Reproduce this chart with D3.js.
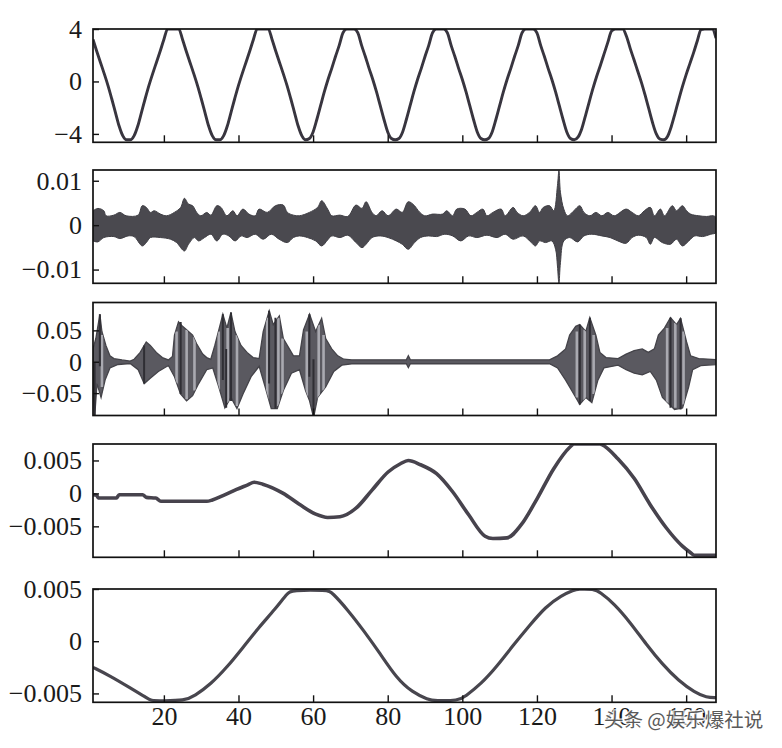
<!DOCTYPE html>
<html><head><meta charset="utf-8">
<script src="https://cdn.jsdelivr.net/npm/d3@7"></script>
<style>body{margin:0;background:#fff}</style>
</head><body><svg id="c" width="782" height="748"></svg>
<script>
// ---------- DATA ----------
const xTicks = [20,40,60,80,100,120,140,160];
const xTickLabels = ["20","40","60","80","100","120","140","160"];

// panel 1: clipped, near-triangular oscillation (one value per sample 1..168)
const p1Values = [
 3.2,2.3,1.45,0.6,-0.3,-1.3,-2.35,-3.4,-4.15,-4.45,-4.45,-4.15,-3.4,-2.35,-1.3,-0.3,0.6,1.45,2.3,3.2,4,4,4,4,
 3.2,2.3,1.45,0.6,-0.3,-1.3,-2.35,-3.4,-4.15,-4.45,-4.45,-4.15,-3.4,-2.35,-1.3,-0.3,0.6,1.45,2.3,3.2,4,4,4,4,
 3.2,2.3,1.45,0.6,-0.3,-1.3,-2.35,-3.4,-4.15,-4.45,-4.35,-3.85,-2.9,-1.85,-0.8,0.15,1.0,1.9,2.75,3.7,4,4,4,3.7,
 2.75,1.9,1.0,0.15,-0.8,-1.85,-2.9,-3.85,-4.35,-4.45,-4.35,-3.85,-2.9,-1.85,-0.8,0.15,1.0,1.9,2.75,3.7,4,4,4,3.7,
 2.75,1.9,1.0,0.15,-0.8,-1.85,-2.9,-3.85,-4.35,-4.45,-4.35,-3.85,-2.9,-1.85,-0.8,0.15,1.0,1.9,2.75,3.7,4,4,4,3.7,
 2.75,1.9,1.0,0.15,-0.8,-1.85,-2.9,-3.85,-4.35,-4.45,-4.25,-3.62,-2.62,-1.57,-0.55,0.38,1.22,2.1,2.98,3.85,4,4,4,3.45,
 2.52,1.67,0.8,-0.07,-1.05,-2.1,-3.15,-4.0,-4.4,-4.45,-4.2,-3.45,-2.45,-1.4,-0.4,0.52,1.36,2.2,3.1,3.95,4,4,4,3.3
];
const p1YTicks = [-4,0,4];
const p1YLabels = ["\u22124","0","4"];

// panel 2: envelope of a dense noise band [x, value]
const p2Upper = [[1.0,0.00325],[2.3,0.00377],[3.9,0.00325],[4.5,0.00211],[6.6,0.00226],[8.2,0.00287],[9.9,0.00211],[13.1,0.00226],[14.2,0.00438],[15.3,0.004],[16.4,0.00287],[17.4,0.00325],[19.1,0.00249],[20.7,0.00211],[22.8,0.00287],[24.5,0.004],[25.5,0.00604],[26.6,0.00475],[27.7,0.00438],[28.8,0.00287],[29.9,0.00211],[31.5,0.00287],[32.6,0.00226],[34.2,0.00438],[35.3,0.004],[36.9,0.00211],[38.5,0.00325],[39.6,0.00211],[41.2,0.00362],[42.8,0.00249],[44.5,0.00211],[45.5,0.00362],[47.7,0.00287],[49.9,0.00438],[52.0,0.00453],[53.1,0.00287],[54.7,0.00226],[56.3,0.00211],[59.0,0.00287],[61.2,0.004],[62.3,0.00551],[63.9,0.00362],[65.0,0.00211],[67.2,0.00226],[69.3,0.00196],[71.5,0.00453],[73.1,0.00377],[74.2,0.00528],[75.8,0.00287],[76.9,0.00211],[78.5,0.00325],[80.1,0.00211],[82.3,0.00362],[83.9,0.00287],[85.5,0.00528],[87.2,0.00438],[88.2,0.00325],[89.9,0.00211],[92.0,0.00249],[94.7,0.00249],[95.8,0.00325],[97.4,0.00211],[98.5,0.00362],[100.7,0.00362],[102.3,0.00211],[103.9,0.00287],[105.5,0.00362],[106.6,0.00211],[108.2,0.00287],[110.4,0.00362],[111.5,0.00211],[113.6,0.004],[114.7,0.00287],[116.3,0.00211],[118.0,0.00287],[119.6,0.00438],[120.7,0.00287],[121.7,0.004],[123.4,0.00438],[124.5,0.00325],[125.5,0.0089],[125.9,0.0123],[126.3,0.0074],[127.2,0.00362],[128.2,0.00211],[129.9,0.00325],[131.5,0.00438],[132.6,0.00287],[134.2,0.00211],[135.8,0.00287],[137.4,0.00211],[139.0,0.00287],[140.7,0.00211],[143.9,0.00362],[145.5,0.00287],[147.2,0.00211],[148.8,0.00325],[150.4,0.004],[151.5,0.00211],[153.1,0.00362],[154.2,0.00211],[156.3,0.00438],[157.4,0.00325],[159.0,0.00438],[160.1,0.00325],[161.2,0.00249],[163.4,0.00211],[165.5,0.00196],[167.2,0.00211],[168.0,0.00174]];
const p2Lower = [[1.0,-0.00355],[2.3,-0.00377],[3.9,-0.00279],[6.6,-0.00257],[8.2,-0.00302],[10.4,-0.00242],[12.0,-0.00257],[14.2,-0.00468],[15.3,-0.00392],[16.4,-0.00279],[19.1,-0.00279],[21.8,-0.00317],[23.4,-0.00392],[25.5,-0.00581],[26.6,-0.0043],[28.2,-0.00279],[29.3,-0.00355],[30.9,-0.00279],[32.6,-0.00204],[34.2,-0.00355],[35.8,-0.00204],[37.4,-0.00242],[39.1,-0.00355],[40.7,-0.00242],[42.3,-0.00279],[44.5,-0.00204],[46.6,-0.00317],[48.8,-0.00204],[50.9,-0.00317],[53.1,-0.00392],[54.7,-0.00279],[56.3,-0.00242],[58.5,-0.00279],[60.7,-0.00355],[62.3,-0.00468],[63.9,-0.00332],[65.0,-0.00242],[67.2,-0.00279],[69.3,-0.00226],[71.5,-0.00392],[73.1,-0.00506],[74.2,-0.0043],[75.8,-0.00279],[78.0,-0.00242],[80.1,-0.00279],[82.3,-0.00355],[83.9,-0.0043],[85.5,-0.00543],[87.2,-0.00392],[88.8,-0.00279],[90.9,-0.00242],[93.1,-0.00257],[95.3,-0.00204],[97.4,-0.00242],[99.6,-0.00355],[101.7,-0.00242],[103.9,-0.00279],[106.6,-0.00226],[109.3,-0.00279],[111.5,-0.00204],[113.6,-0.00317],[116.3,-0.00242],[118.5,-0.00392],[119.6,-0.00468],[120.7,-0.00355],[122.3,-0.00392],[124.0,-0.00355],[125.0,-0.00543],[125.5,-0.0092],[125.9,-0.0131],[126.3,-0.00845],[127.2,-0.00355],[128.8,-0.00279],[130.9,-0.00377],[132.6,-0.00242],[134.7,-0.00204],[137.4,-0.00242],[139.6,-0.00279],[141.7,-0.00355],[143.9,-0.00408],[145.5,-0.00279],[147.2,-0.00226],[149.3,-0.00279],[150.4,-0.0043],[151.5,-0.00279],[153.6,-0.00392],[155.8,-0.0043],[157.4,-0.00317],[159.0,-0.00468],[160.7,-0.00355],[162.3,-0.00242],[164.4,-0.00257],[166.6,-0.00204],[168.0,-0.00166]];
const p2YTicks = [-0.01,0,0.01];
const p2YLabels = ["\u22120.01","0","0.01"];

// panel 3: bursts — envelope [x, value] and spikes [x, top, bottom]
const p3Upper = [[1.0,0.0204],[1.76,0.037],[2.84,0.0757],[3.38,0.0481],[4.46,0.026],[5.54,0.0094],[6.62,0.005],[8.78,0.0028],[10.95,0.0011],[12.03,0.0039],[13.65,0.0149],[15.27,0.0315],[16.35,0.026],[17.97,0.0149],[19.59,0.0066],[21.21,0.0028],[22.3,0.0083],[22.84,0.0425],[23.92,0.0635],[25.0,0.0564],[26.08,0.0508],[27.7,0.0425],[28.78,0.0287],[30.4,0.0122],[31.48,0.0066],[32.57,0.0039],[33.65,0.026],[34.73,0.0508],[35.81,0.0757],[36.89,0.0536],[37.97,0.0785],[39.05,0.0481],[40.67,0.026],[42.29,0.0149],[43.92,0.0066],[45.54,0.005],[46.62,0.0481],[48.24,0.0812],[49.32,0.0591],[50.94,0.0729],[52.02,0.037],[53.64,0.0204],[54.73,0.0094],[56.35,0.0094],[57.43,0.0508],[59.05,0.0757],[60.67,0.0481],[62.29,0.0691],[63.37,0.037],[64.99,0.0204],[66.61,0.0094],[68.24,0.004],[70.4,0.003],[84.99,0.003],[85.53,0.0095],[86.07,0.003],[123.37,0.003],[125.53,0.0094],[127.69,0.0204],[128.77,0.0425],[130.4,0.0564],[131.48,0.0591],[133.1,0.0481],[134.18,0.0702],[135.8,0.0425],[136.88,0.0149],[138.5,0.0066],[141.75,0.005],[143.91,0.0122],[146.07,0.0177],[148.23,0.0204],[149.85,0.0149],[151.48,0.0204],[152.56,0.0425],[154.18,0.0536],[155.8,0.0702],[157.42,0.0591],[158.5,0.0691],[160.12,0.0315],[161.2,0.0094],[163.37,0.005],[168.0,0.0035]];
const p3Lower = [[1.0,-0.0293],[1.43,-0.089],[2.08,-0.0348],[3.16,-0.0569],[4.24,-0.0293],[5.54,-0.0099],[7.7,-0.0044],[10.95,-0.0028],[13.11,-0.0127],[14.73,-0.0348],[16.35,-0.0265],[18.51,-0.0155],[21.21,-0.0061],[22.84,-0.0238],[24.46,-0.0514],[26.08,-0.0624],[27.7,-0.0541],[29.32,-0.0348],[31.48,-0.0127],[33.11,-0.0099],[34.73,-0.0403],[36.35,-0.0735],[37.97,-0.0569],[39.59,-0.0746],[41.21,-0.0514],[43.38,-0.0238],[45.54,-0.0072],[47.16,-0.0403],[48.78,-0.0746],[50.4,-0.0746],[52.02,-0.0459],[54.19,-0.0182],[56.35,-0.0127],[57.97,-0.0459],[59.05,-0.0624],[60.13,-0.089],[61.21,-0.0569],[63.37,-0.0403],[65.54,-0.0155],[67.7,-0.0055],[70.4,-0.0032],[84.99,-0.0032],[85.53,-0.0095],[86.07,-0.0032],[123.37,-0.0032],[125.53,-0.0099],[127.69,-0.0293],[129.86,-0.0514],[131.48,-0.068],[133.1,-0.0569],[134.72,-0.0652],[136.34,-0.0293],[137.96,-0.0099],[141.75,-0.0055],[143.91,-0.0127],[146.07,-0.0182],[148.23,-0.021],[150.39,-0.0155],[152.01,-0.0293],[153.64,-0.0569],[156.88,-0.0762],[159.04,-0.0735],[160.66,-0.0403],[161.74,-0.0127],[163.9,-0.0061],[168.0,-0.0045]];
const p3DarkSpikes = [[1.43,-0.0017,-0.089],[2.84,0.0757,-0.0072],[14.7,0.026,-0.0348],[24.5,0.0635,-0.0514],[35.8,0.0757,-0.0293],[36.7,0.0204,-0.0735],[38.0,0.0785,-0.0624],[48.2,0.0812,-0.0348],[49.9,0.0702,-0.0746],[59.0,0.0757,-0.0238],[60.1,0.0039,-0.089],[131.5,0.0591,-0.068],[134.2,0.0702,-0.0624],[155.8,0.0702,-0.0735],[158.5,0.0691,-0.0762]];
const p3LightSpikes = [[3.4,0.0425,-0.0403],[23.4,0.048,-0.0348],[26.1,0.0508,-0.0597],[28.2,0.0398,-0.0459],[34.7,0.048,-0.0459],[37.1,0.0536,-0.0652],[39.6,0.0425,-0.0707],[47.7,0.0702,-0.0624],[50.7,0.0702,-0.0707],[51.8,0.037,-0.0514],[58.3,0.048,-0.0569],[61.5,0.0591,-0.0624],[62.8,0.0425,-0.0459],[130.7,0.048,-0.0569],[132.8,0.0508,-0.0624],[135.2,0.0425,-0.0514],[154.9,0.0536,-0.068],[157.1,0.0619,-0.0735],[159.3,0.048,-0.068]];
const p3YTicks = [-0.05,0,0.05];
const p3YLabels = ["\u22120.05","0","0.05"];

// panel 4: growing oscillation [x, value]
const p4Points = [[1.0,-0.0002],[2.0,-0.0003],[2.4,-0.0007],[7.3,-0.0007],[8.0,-0.0002],[14.3,-0.0002],[15.3,-0.0006],[17.8,-0.0007],[19.2,-0.0012],[31.5,-0.0012],[33.0,-0.001],[36.0,-0.0003],[39.5,0.0006],[42.5,0.0013],[44.2,0.0017],[46.5,0.0014],[52.0,0.0],[56.3,-0.00165],[60.7,-0.00315],[63.9,-0.00365],[67.2,-0.00355],[71.5,-0.00225],[75.8,0.0005],[80.1,0.00325],[83.4,0.0045],[85.5,0.005],[88.8,0.00435],[93.1,0.003],[97.4,0.00025],[101.7,-0.00325],[106.1,-0.0065],[108.2,-0.00685],[112.0,-0.00675],[115.8,-0.00475],[120.1,-0.00075],[124.5,0.00375],[128.8,0.007],[129.9,0.0075],[136.9,0.0075],[137.4,0.0074],[141.7,0.00525],[146.1,0.00225],[150.4,-0.00175],[154.7,-0.00525],[159.0,-0.008],[161.2,-0.009],[162.2,-0.0094],[168.0,-0.0094]];
const p4YTicks = [-0.005,0,0.005];
const p4YLabels = ["\u22120.005","0","0.005"];

// panel 5: slow oscillation [x, value]
const p5Points = [[1.0,-0.0025],[5.5,-0.0033],[10.9,-0.00445],[15.3,-0.0054],[16.4,-0.0057],[19.6,-0.0057],[25.5,-0.0057],[28.2,-0.00525],[32.6,-0.0041],[36.9,-0.0025],[41.2,-0.0006],[45.5,0.00135],[49.9,0.0031],[53.1,0.0046],[54.2,0.0049],[63.9,0.0049],[65.0,0.0047],[69.3,0.003],[73.6,0.001],[78.0,-0.0012],[82.3,-0.0035],[86.6,-0.0049],[90.9,-0.0056],[92.6,-0.0057],[99.0,-0.0057],[100.7,-0.0053],[105.0,-0.0041],[109.3,-0.0024],[113.6,-0.0004],[118.0,0.0015],[122.3,0.0033],[126.6,0.0044],[129.9,0.0049],[130.9,0.005],[135.3,0.005],[136.9,0.0047],[140.7,0.0036],[145.0,0.0018],[149.3,-0.0003],[153.6,-0.0022],[158.0,-0.0038],[162.3,-0.0049],[165.5,-0.0054],[168.0,-0.0054]];
const p5YTicks = [-0.005,0,0.005];
const p5YLabels = ["\u22120.005","0","0.005"];

const watermark = "头条 @娱乐爆社说";

// ---------- LAYOUT ----------
const svg = d3.select("#c");
const L = 93, R = 716;
const x = d3.scaleLinear().domain([1,168]).range([L,R]);
const FONT = "'Liberation Serif','Times New Roman',serif";

const panels = [
  {top:29,   bottom:142.3, domain:[-4.64,4],          ticks:p1YTicks, labels:p1YLabels},
  {top:170,  bottom:283.3, domain:[-0.01309,0.01242], ticks:p2YTicks, labels:p2YLabels},
  {top:302.5,bottom:415.5, domain:[-0.0857,0.0944],   ticks:p3YTicks, labels:p3YLabels},
  {top:444,  bottom:557.3, domain:[-0.0097,0.0075],   ticks:p4YTicks, labels:p4YLabels},
  {top:589,  bottom:702.3, domain:[-0.00585,0.005],   ticks:p5YTicks, labels:p5YLabels}
];

const defs = svg.append("defs");
panels.forEach((p,i)=>{
  p.y = d3.scaleLinear().domain(p.domain).range([p.bottom,p.top]);
  defs.append("clipPath").attr("id","clip"+i).append("rect")
    .attr("x",L).attr("y",p.top).attr("width",R-L).attr("height",p.bottom-p.top);
  p.g = svg.append("g");
  p.plot = p.g.append("g").attr("clip-path","url(#clip"+i+")");
});

// panel 1
{
  const p = panels[0];
  const line = d3.line().x((d,i)=>x(i+1)).y(d=>p.y(d)).curve(d3.curveMonotoneX);
  p.plot.append("path").datum(p1Values).attr("d",line)
    .attr("fill","none").attr("stroke","#38353f").attr("stroke-width",2.9);
}
// panel 2
{
  const p = panels[1];
  const poly = p2Upper.concat(p2Lower.slice().reverse());
  const line = d3.line().x(d=>x(d[0])).y(d=>p.y(d[1])).curve(d3.curveCatmullRom.alpha(0.5));
  p.plot.append("path").attr("d",line(poly)+"Z")
    .attr("fill","#4a494f").attr("stroke","#3f3e44").attr("stroke-width",1);
}
// panel 3
{
  const p = panels[2];
  const poly = p3Upper.concat(p3Lower.slice().reverse());
  const line = d3.line().x(d=>x(d[0])).y(d=>p.y(d[1]));
  const dpath = line(poly)+"Z";
  defs.append("clipPath").attr("id","env3").append("path").attr("d",dpath);
  p.plot.append("path").attr("d",dpath)
    .attr("fill","#5a5960").attr("stroke","#444349").attr("stroke-width",1.3);
  const lg = p.plot.append("g").attr("clip-path","url(#env3)");
  lg.selectAll("line").data(p3LightSpikes).join("line")
    .attr("x1",d=>x(d[0])).attr("x2",d=>x(d[0]))
    .attr("y1",d=>p.y(d[1])).attr("y2",d=>p.y(d[2]))
    .attr("stroke","#a9a9b0").attr("stroke-width",2.6);
  p.plot.append("g").selectAll("line").data(p3DarkSpikes).join("line")
    .attr("x1",d=>x(d[0])).attr("x2",d=>x(d[0]))
    .attr("y1",d=>p.y(d[1])).attr("y2",d=>p.y(d[2]))
    .attr("stroke","#2f2e34").attr("stroke-width",2);
}
// panel 4
{
  const p = panels[3];
  const line = d3.line().x(d=>x(d[0])).y(d=>p.y(d[1])).curve(d3.curveMonotoneX);
  p.plot.append("path").datum(p4Points).attr("d",line)
    .attr("fill","none").attr("stroke","#47434d").attr("stroke-width",3.6);
}
// panel 5
{
  const p = panels[4];
  const line = d3.line().x(d=>x(d[0])).y(d=>p.y(d[1])).curve(d3.curveBasis);
  p.plot.append("path").datum(p5Points).attr("d",line)
    .attr("fill","none").attr("stroke","#48464e").attr("stroke-width",3.2);
}

// axes & frames
panels.forEach((p,i)=>{
  const last = i===panels.length-1;
  const xa = d3.axisBottom(x).tickValues(xTicks).tickSize(-7).tickPadding(4)
    .tickFormat((d,k)=> last ? xTickLabels[k] : "");
  const gx = p.g.append("g").attr("transform",`translate(0,${p.bottom})`).call(xa);
  const ya = d3.axisLeft(p.y).tickValues(p.ticks).tickSize(-6).tickPadding(11)
    .tickFormat((d,k)=>p.labels[k]);
  const gy = p.g.append("g").attr("transform",`translate(${L},0)`).call(ya);
  [gx,gy].forEach(g=>{
    g.select(".domain").remove();
    g.selectAll(".tick line").attr("stroke","#111").attr("stroke-width",1.4);
    g.selectAll(".tick text").attr("fill","#1a1a1a").style("font-family",FONT).style("font-size","26px");
  });
  p.g.append("rect").attr("x",L).attr("y",p.top).attr("width",R-L).attr("height",p.bottom-p.top)
    .attr("fill","none").attr("stroke","#111").attr("stroke-width",1.7);
});

// watermark (overlays the last tick labels, as in the source image)
svg.append("text").attr("x",604).attr("y",727).text(watermark)
  .style("font-family","'Noto Sans CJK SC',sans-serif").style("font-size","19.5px")
  .attr("fill","#5a5a5a").attr("stroke","#fff").attr("stroke-width",2.5)
  .attr("stroke-opacity",0.8).style("paint-order","stroke");
</script>
</body></html>
